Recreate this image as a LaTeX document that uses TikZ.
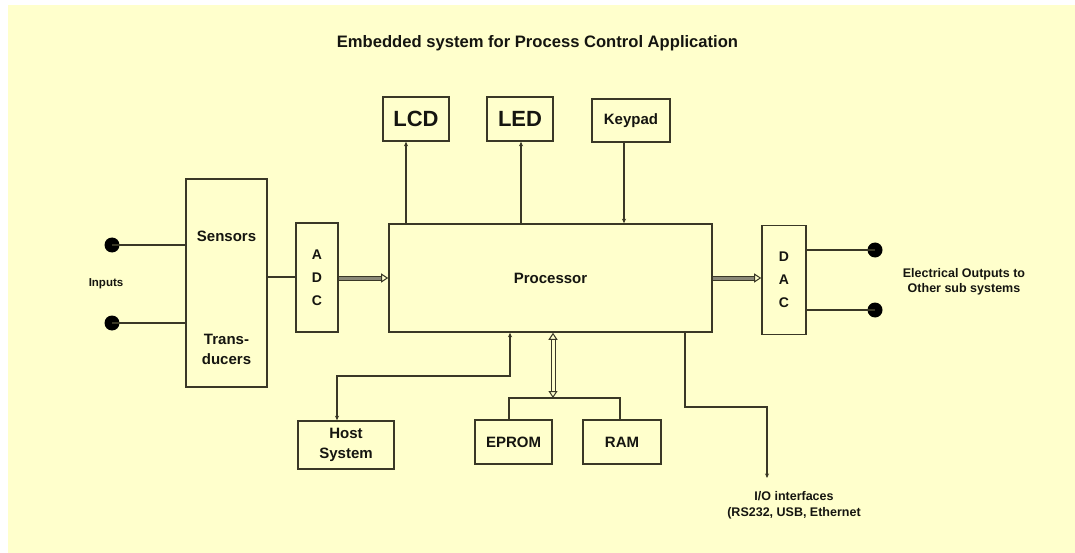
\documentclass[tikz,border=0pt]{standalone}
\usepackage{fontspec}
\setmainfont{Liberation Sans}
\usetikzlibrary{arrows.meta,calc}
\definecolor{bgyellow}{HTML}{FFFFCC}
\definecolor{linecol}{HTML}{3A3826}
\definecolor{busgray}{HTML}{8A8878}
\definecolor{txtcol}{HTML}{151510}
\begin{document}
\begin{tikzpicture}[x=1pt,y=-1pt,
  box/.style={draw=linecol,line width=1.6pt,inner sep=0pt,text=txtcol,font=\bfseries\fontsize{15}{17}\selectfont,align=center},
  big/.style={font=\bfseries\fontsize{22}{24}\selectfont},
  conn/.style={draw=linecol,line width=1.4pt},
  arr/.style={conn,-{Stealth[length=4.5pt,width=4pt]}},
  barr/.style={conn,{Stealth[length=4.5pt,width=4pt]}-{Stealth[length=4.5pt,width=4pt]}},
  bus/.style={draw=linecol,line width=1pt,double=busgray,double distance=3pt,-{Triangle[open,length=7pt,width=9pt]}},
  dbus/.style={draw=linecol,line width=1pt,double=bgyellow,double distance=3pt,{Triangle[open,length=7pt,width=9pt]}-{Triangle[open,length=7pt,width=9pt]}},
  dot/.style={circle,fill=black,inner sep=0pt,minimum size=15pt},
  lbl/.style={text=txtcol,font=\bfseries\fontsize{12.5}{15.5}\selectfont,align=center,inner sep=0pt}
]
\fill[white] (0,0) rectangle (1075,553);
\fill[bgyellow] (8,5) rectangle (1075,553);
\useasboundingbox (0,0) rectangle (1075,553);

\node[lbl,font=\bfseries\fontsize{16.6}{18}\selectfont] (title) at (537.5,43) {Embedded system for Process Control Application};

% boxes
\node[box,big,minimum width=66pt,minimum height=44pt] (lcd) at (416,119) {LCD};
\node[box,big,minimum width=66pt,minimum height=44pt] (led) at (520,119) {LED};
\node[box,minimum width=78pt,minimum height=43pt] (key) at (631,120.5) {Keypad};
\node[box,minimum width=81pt,minimum height=208pt] (sens) at (226.5,283) {};
\node[text=txtcol,font=\bfseries\fontsize{15}{17}\selectfont] (senst) at (226.5,236) {Sensors};
\node[text=txtcol,font=\bfseries\fontsize{15}{20}\selectfont,align=center] (transt) at (226.5,349) {Trans-\\ducers};
\node[box,minimum width=42pt,minimum height=109pt,font=\bfseries\fontsize{14}{23}\selectfont] (adc) at (317,277.5) {A\\D\\C};
\node[box,minimum width=323pt,minimum height=108pt] (proc) at (550.5,278) {Processor};
\node[box,minimum width=44pt,minimum height=109pt,font=\bfseries\fontsize{14}{23}\selectfont] (dac) at (784,280) {D\\A\\C};
\node[box,minimum width=96pt,minimum height=48pt,font=\bfseries\fontsize{15}{20}\selectfont] (host) at (346,445) {Host\\System};
\node[box,minimum width=77pt,minimum height=44pt] (eprom) at (513.5,442) {EPROM};
\node[box,minimum width=78pt,minimum height=44pt] (ram) at (622,442) {RAM};

% inputs
\node[dot] (in1) at (112,245) {};
\node[dot] (in2) at (112,323) {};
\node[lbl,font=\bfseries\fontsize{11.5}{13}\selectfont] (inputs) at (106,284) {Inputs};
\draw[conn] (in1.center) -- (in1.center -| sens.west);
\draw[conn] (in2.center) -- (in2.center -| sens.west);

% outputs
\node[dot] (out1) at (875,250) {};
\node[dot] (out2) at (875,310) {};
\draw[conn] (out1.center -| dac.east) -- (out1.center);
\draw[conn] (out2.center -| dac.east) -- (out2.center);
\node[lbl] (outt) at (964,282) {Electrical Outputs to\\Other sub systems};

% sensors -> adc -> proc -> dac
\draw[conn] (sens.east |- 0,277) -- (adc.west |- 0,277);
\draw[bus] (adc.east |- 0,278) -- (proc.west |- 0,278);
\draw[bus] (proc.east |- 0,278) -- (dac.west |- 0,278);

% top peripherals
\coordinate (lcdx) at (406,0);
\coordinate (ledx) at (521,0);
\coordinate (keyx) at (624,0);
\draw[arr] (proc.north -| lcdx) -- (lcd.south -| lcdx);
\draw[arr] (proc.north -| ledx) -- (led.south -| ledx);
\draw[arr] (key.south -| keyx) -- (proc.north -| keyx);

% host
\draw[barr] (proc.south -| 510,0) -- (510,376) -- (337,376) -- (host.north -| 337,0);

% memory bus
\coordinate (mbus) at (553,398);
\draw[dbus] (proc.south -| mbus) -- (mbus);
\draw[conn] (eprom.north -| 509,0) -- (509,398) -- (620,398) -- (ram.north -| 620,0);

% I/O
\coordinate (ioend) at (767,478);
\draw[arr] (proc.south -| 685,0) -- (685,407) -- (767,407) -- (ioend);
\node[lbl] (iot) at (794,505.5) {I/O interfaces\\(RS232, USB, Ethernet};
\end{tikzpicture}
\end{document}
